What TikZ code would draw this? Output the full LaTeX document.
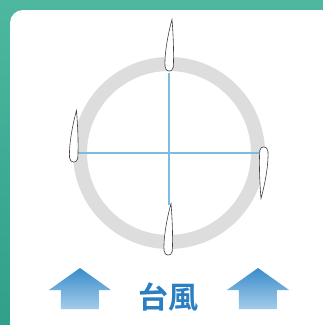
\documentclass[tikz,border=0pt]{standalone}
\usepackage{fontspec}
\newfontfamily\cjk{Noto Sans CJK JP}[BoldFont={Noto Sans CJK JP Bold}]
\definecolor{frameTeal}{HTML}{4DB89F}
\definecolor{frameDark}{HTML}{2FA08A}
\definecolor{ringGray}{HTML}{DDDDDD}
\definecolor{axisBlue}{HTML}{7FBAE0}
\definecolor{arrowTop}{HTML}{3A8CCA}
\definecolor{arrowBot}{HTML}{A3CCEB}
\definecolor{labelBlue}{HTML}{2A7EC2}

\tikzset{
	blade/.pic={
		\filldraw [fill=white, draw=black!75, line width=0.6pt]
			(3,-53) .. controls (4.5,-35) and (5,-15) .. (4.2,-5)
			.. controls (3.6,0) and (-3.6,0) .. (-4,-6)
			.. controls (-4.6,-16) and (-2,-35) .. (3,-53) -- cycle;
	},
	uparrow/.style={top color=arrowTop, bottom color=arrowBot},
}

\begin{document}
\begin{tikzpicture}[x=1pt, y=-1pt]
				\useasboundingbox (0,0) rectangle (323,325);
				\shade [top color=frameTeal, bottom color=frameDark] (0,0) rectangle (323,325);
				\fill [white, rounded corners=13pt] (10,10) rectangle (336,338);
				\draw [ringGray, line width=14pt] (169,153) circle (89);
				\coordinate (hub) at (169,153);
				\coordinate (tipT) at (169,72.5);
				\coordinate (tipB) at (169,205);
				\coordinate (tipL) at (73.5,153);
				\coordinate (tipR) at (259.5,153);
				\draw [axisBlue, line width=1.4pt] (tipL) -- (tipR);
				\draw [axisBlue, line width=1.4pt] (tipT) -- (tipB);
				\pic at (169,72.5) {blade};
				\pic at (168,256.5) {blade};
				\pic at (73.5,163.5) {blade};
				\pic [rotate=180] at (264,145.5) {blade};
				\shade [uparrow] (80,268) -- (111,290) -- (99,290) -- (99,309) -- (61,309) -- (61,290) -- (49,290) -- cycle;
				\shade [uparrow] (258,268) -- (289,290) -- (277,290) -- (277,309) -- (239,309) -- (239,290) -- (227,290) -- cycle;
				\node [text=labelBlue, font=\cjk\bfseries\fontsize{30}{30}\selectfont, inner sep=0pt] (label) at (168.5,297) {台風};
			\end{tikzpicture}
\end{document}
